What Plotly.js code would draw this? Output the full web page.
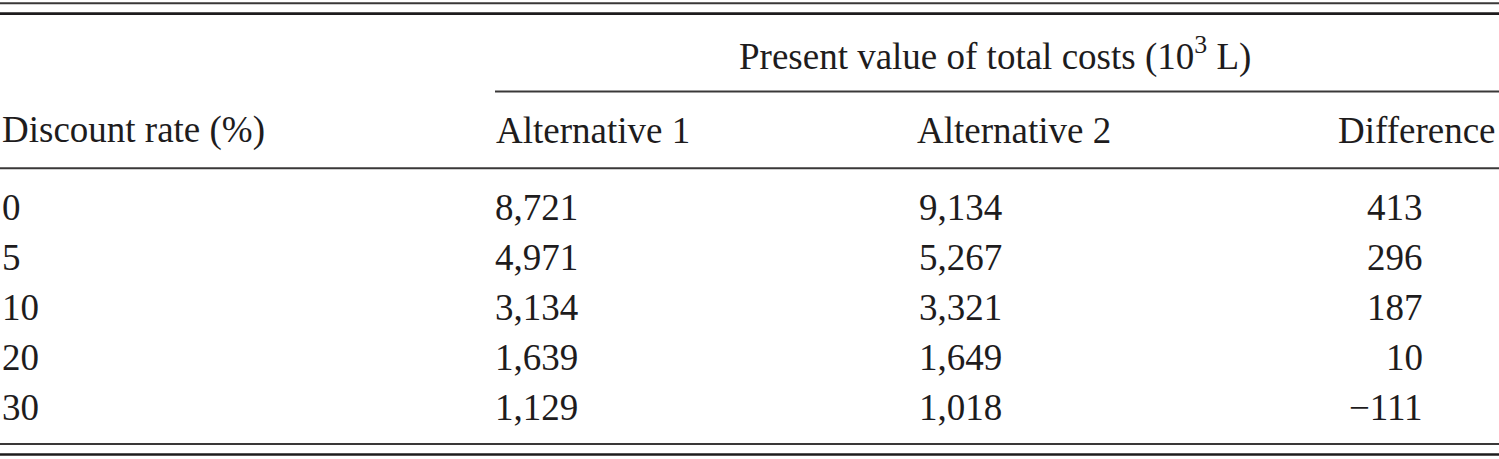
<!DOCTYPE html>
<html>
<head>
<meta charset="utf-8">
<script src="https://cdn.plot.ly/plotly-3.0.1.min.js"></script>
<style>
  html, body { margin: 0; padding: 0; background: #fff; }
  #chart { width: 1499px; height: 459px; }
</style>
</head>
<body>
<div id="chart"></div>
<script>
// ---- Data ----
const discountRates = ['0', '5', '10', '20', '30'];
const alternative1 = [8721, 4971, 3134, 1639, 1129];
const alternative2 = [9134, 5267, 3321, 1649, 1018];
const difference = [413, 296, 187, 10, -111];

const spannerLabel = 'Present value of total costs (10<sup>3</sup> L)';
const columnHeaders = ['Discount rate (%)', 'Alternative 1', 'Alternative 2', 'Difference'];

// ---- Layout helpers ----
const W = 1499, H = 459;
const FONT = { family: '"Liberation Serif", "Times New Roman", serif', size: 37, color: '#1e1c1d' };
const INK = '#1e1c1d';

function fmt(v) {
  const s = Math.abs(v).toLocaleString('en-US');
  return v < 0 ? '\u2212' + s : s;
}

// column geometry: [x, anchor]
const colHead = [[1, 'left'], [495, 'left'], [916, 'left'], [1497, 'right']];
const colBody = [[1, 'left'], [494, 'left'], [918, 'left'], [1424, 'right']];

const headerMid = 130;          // vertical centre of header row
const spannerMid = 54;          // vertical centre of spanner row
const firstRowMid = 207.5;
const rowStep = 50;

const annotations = [];
function addText(text, x, y, anchor) {
  annotations.push({
    text: text, x: x, y: y, xref: 'x', yref: 'y',
    xanchor: anchor, yanchor: 'middle', showarrow: false,
    font: FONT, borderpad: 0
  });
}

addText(spannerLabel, 995, spannerMid, 'center');
columnHeaders.forEach((h, i) => addText(h, colHead[i][0], headerMid, colHead[i][1]));

const columns = [discountRates, alternative1.map(fmt), alternative2.map(fmt), difference.map(fmt)];
columns.forEach((col, ci) => {
  col.forEach((val, ri) => {
    addText(val, colBody[ci][0], firstRowMid + ri * rowStep, colBody[ci][1]);
  });
});

function rule(x0, x1, y, w, color) {
  return { type: 'line', xref: 'x', yref: 'y', x0: x0, x1: x1, y0: y, y1: y,
           line: { color: color || INK, width: w } };
}
const shapes = [
  rule(0, W, 3.2, 2, '#3a3838'),
  rule(0, W, 13.6, 2.6),
  rule(495, W, 91.5, 2, '#3a3838'),
  rule(0, W, 168.3, 2, '#3a3838'),
  rule(0, W, 444, 2, '#3a3838'),
  rule(0, W, 454.5, 2.6)
];

const layout = {
  width: W, height: H,
  margin: { l: 0, r: 0, t: 0, b: 0, pad: 0 },
  paper_bgcolor: '#ffffff', plot_bgcolor: '#ffffff',
  showlegend: false,
  xaxis: { range: [0, W], visible: false, fixedrange: true },
  yaxis: { range: [H, 0], visible: false, fixedrange: true },
  annotations: annotations,
  shapes: shapes
};

Plotly.newPlot('chart', [{ x: [], y: [], type: 'scatter', mode: 'markers', hoverinfo: 'skip' }], layout,
  { staticPlot: true, displayModeBar: false });
</script>
</body>
</html>
